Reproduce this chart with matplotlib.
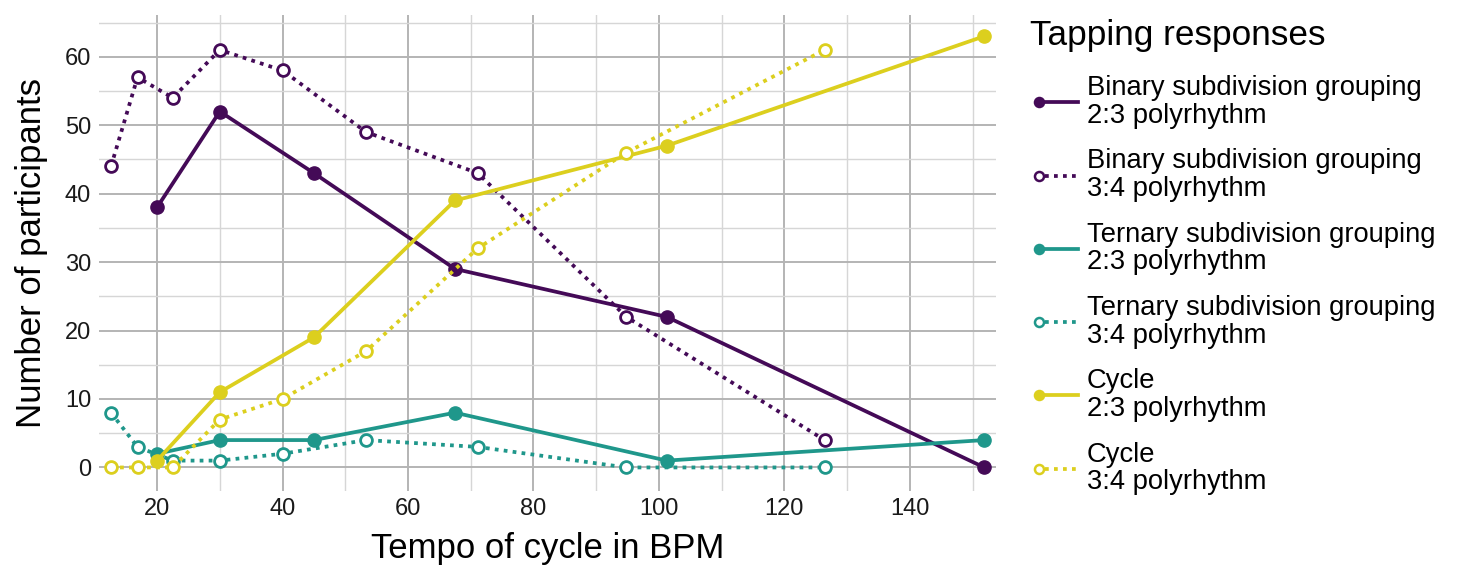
import matplotlib
matplotlib.use("Agg")
import matplotlib.pyplot as plt
from matplotlib.lines import Line2D
from matplotlib.legend_handler import HandlerBase

plt.rcParams['font.family'] = ['Liberation Sans', 'DejaVu Sans']

# tempos (BPM) for the two polyrhythms
tempo_23 = [20, 30, 45, 67.5, 101.25, 151.875]
tempo_34 = [12.66, 16.88, 22.5, 30, 40, 53.33, 71.11, 94.81, 126.42]

binary_23 = [38, 52, 43, 29, 22, 0]
binary_34 = [44, 57, 54, 61, 58, 49, 43, 22, 4]
ternary_23 = [2, 4, 4, 8, 1, 4]
ternary_34 = [8, 3, 1, 1, 2, 4, 3, 0, 0]
cycle_23 = [1, 11, 19, 39, 47, 63]
cycle_34 = [0, 0, 0, 7, 10, 17, 32, 46, 61]

purple = '#440a57'
teal = '#1f978b'
yellow = '#dccf1e'

series = [
    ("Binary subdivision grouping\n2:3 polyrhythm", tempo_23, binary_23, purple, True),
    ("Binary subdivision grouping\n3:4 polyrhythm", tempo_34, binary_34, purple, False),
    ("Ternary subdivision grouping\n2:3 polyrhythm", tempo_23, ternary_23, teal, True),
    ("Ternary subdivision grouping\n3:4 polyrhythm", tempo_34, ternary_34, teal, False),
    ("Cycle\n2:3 polyrhythm", tempo_23, cycle_23, yellow, True),
    ("Cycle\n3:4 polyrhythm", tempo_34, cycle_34, yellow, False),
]

DOTS = (0, (1, 1.4))


class LeftMarkerHandler(HandlerBase):
    # marker on the left end of the key, line running to the right
    def create_artists(self, legend, orig, xdescent, ydescent, width, height, fontsize, trans):
        y = height / 2 - ydescent
        x0 = -xdescent + 6.5
        x1 = -xdescent + width
        ls = '-' if orig.get_linestyle() == '-' else DOTS
        line = Line2D([x0 + 4, x1], [y, y], color=orig.get_color(), lw=orig.get_linewidth(),
                      linestyle=ls, transform=trans)
        mk = Line2D([x0], [y], marker='o', markersize=6.5, linestyle='none',
                    markerfacecolor=orig.get_markerfacecolor(),
                    markeredgecolor=orig.get_markeredgecolor(),
                    markeredgewidth=1.8, transform=trans)
        return [line, mk]


fig = plt.figure(figsize=(14.57, 5.66), dpi=100)
ax = fig.add_axes([0.0682, 0.133, 0.6152, 0.8405])

handles = []
for label, x, y, color, solid in series:
    if solid:
        h, = ax.plot(x, y, color=color, lw=2.7, linestyle='-', marker='o', markersize=9.5,
                     markerfacecolor=color, markeredgecolor=color, label=label, zorder=3)
    else:
        h, = ax.plot(x, y, color=color, lw=2.7, linestyle=DOTS, marker='o', markersize=8.5,
                     markerfacecolor='white', markeredgecolor=color, markeredgewidth=2.0,
                     label=label, zorder=3)
    handles.append(h)

ax.set_xlim(10.8, 153.7)
ax.set_ylim(-3.4, 66.1)
ax.set_xticks([20, 40, 60, 80, 100, 120, 140])
ax.set_xticks([30, 50, 70, 90, 110, 130, 150], minor=True)
ax.set_yticks([0, 10, 20, 30, 40, 50, 60])
ax.set_yticks([5, 15, 25, 35, 45, 55, 65], minor=True)
ax.grid(which='major', color='#b4b4b4', lw=1.4)
ax.grid(which='minor', color='#d6d6d6', lw=1.0)
ax.set_axisbelow(True)
for s in ax.spines.values():
    s.set_visible(False)
ax.tick_params(which='both', length=0, labelsize=17, labelcolor='#1a1a1a')
ax.tick_params(axis='x', pad=5)
ax.tick_params(axis='y', pad=6)

ax.set_xlabel("Tempo of cycle in BPM", fontsize=25, labelpad=9)
ax.set_ylabel("Number of participants", fontsize=25, labelpad=12)

leg = fig.legend(handles=handles, loc='upper left', bbox_to_anchor=(0.6938, 1.0),
                 frameon=False, title="Tapping responses", title_fontsize=25.3,
                 fontsize=19.7, handler_map={Line2D: LeftMarkerHandler()},
                 handlelength=1.77, handletextpad=0.3, labelspacing=0.72,
                 borderaxespad=0.3)
leg._legend_box.align = "left"
leg._legend_box.sep = 16.5
for t in leg.get_texts():
    t.set_linespacing(1.08)

fig.savefig("out.png", dpi=100)
